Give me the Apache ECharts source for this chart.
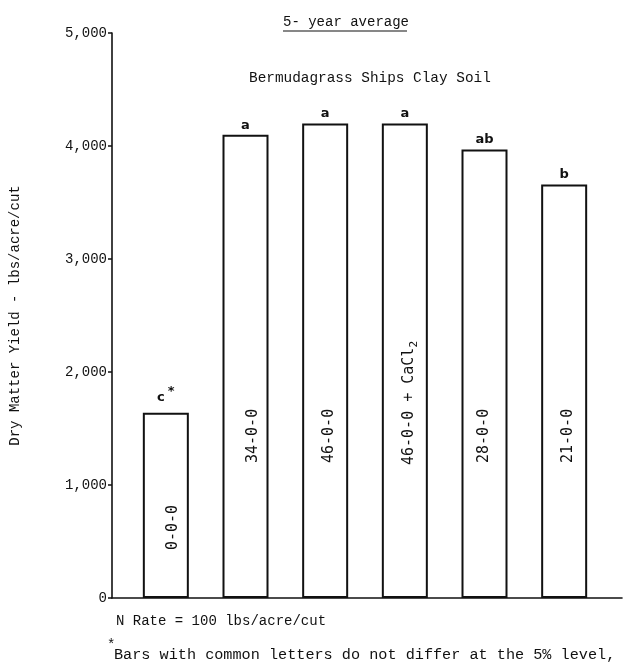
<!DOCTYPE html>
<html>
<head>
<meta charset="utf-8">
<script src="https://cdn.jsdelivr.net/npm/echarts@6/dist/echarts.min.js"></script>
<style>html,body{margin:0;padding:0;background:#fff;}#c{width:630px;height:666px;}</style>
</head>
<body>
<div id="c"></div>
<script>
// ---- data ----
var categories = ['0-0-0', '34-0-0', '46-0-0', '46-0-0 + CaCl2', '28-0-0', '21-0-0'];
var yields = [1640, 4100, 4200, 4200, 3970, 3660];
var letters = ['c', 'a', 'a', 'a', 'ab', 'b'];
var yTicks = [0, 1000, 2000, 3000, 4000, 5000];

// ---- layout (label placement, not data) ----
var labelLift = [48, 135, 135, 133, 135, 135];
var labelDx = [7, 8, 4, 4, 0, 4];

var mono = '"Liberation Mono", "DejaVu Sans Mono", monospace';
var sansMono = '"DejaVu Sans Mono", monospace';
var ink = '#111';

var chart = echarts.init(document.getElementById('c'), null, {renderer: 'canvas'});

function catLabel(name) {
  if (name.indexOf('CaCl2') >= 0) {
    return '{n|' + name.replace('CaCl2', 'CaCl') + '}{s|2}';
  }
  return '{n|' + name + '}';
}

var option = {
  backgroundColor: '#fff',
  animation: false,
  grid: [
    {left: 111, right: 8, top: 33, bottom: 68},
    {left: 126, width: 478, top: 33, bottom: 68}
  ],
  xAxis: [
    {gridIndex: 0, type: 'value', min: 0, max: 1,
     axisLine: {show: true, onZero: false, lineStyle: {color: ink, width: 1.6}},
     axisTick: {show: false}, axisLabel: {show: false}, splitLine: {show: false}},
    {gridIndex: 1, type: 'category', data: categories,
     axisLine: {show: false}, axisTick: {show: false}, axisLabel: {show: false}}
  ],
  yAxis: [
    {gridIndex: 0, type: 'value', min: yTicks[0], max: yTicks[yTicks.length - 1], interval: 1000,
     name: 'Dry Matter Yield - lbs/acre/cut', nameLocation: 'middle', nameGap: 90,
     nameTextStyle: {fontFamily: mono, fontSize: 14, color: ink},
     axisLine: {show: true, lineStyle: {color: ink, width: 1.6}},
     axisTick: {show: true, length: 4, lineStyle: {color: ink, width: 1.5}},
     axisLabel: {fontFamily: mono, fontSize: 14, color: ink, margin: 5,
       formatter: function (v) { return v === 0 ? '0' : v.toLocaleString('en-US'); }},
     splitLine: {show: false}},
    {gridIndex: 1, type: 'value', min: yTicks[0], max: yTicks[yTicks.length - 1], show: false,
     splitLine: {show: false}}
  ],
  series: [
    {type: 'bar', xAxisIndex: 1, yAxisIndex: 1, barWidth: 46, barGap: '-100%',
     data: yields,
     itemStyle: {color: '#fff', borderColor: ink, borderWidth: 2},
     label: {show: true, position: 'top', distance: 3,
       formatter: function (p) {
         var l = letters[p.dataIndex];
         return p.dataIndex === 0 ? '{l|' + l + '}{st|*}' : '{l|' + l + '}';
       },
       rich: {
         l: {fontFamily: '"DejaVu Sans", sans-serif', fontWeight: 'bold', fontSize: 13, color: ink},
         st: {fontFamily: '"DejaVu Sans", sans-serif', fontWeight: 'bold', fontSize: 13, color: ink,
              padding: [0, 0, 12, 3]}
       }}},
    {type: 'bar', xAxisIndex: 1, yAxisIndex: 1, barWidth: 46, barGap: '-100%',
     itemStyle: {color: 'rgba(0,0,0,0)', borderWidth: 0},
     silent: true,
     data: yields.map(function (v, i) {
       return {value: v, label: {distance: labelLift[i], offset: [0, labelDx[i]]}};
     }),
     label: {show: true, position: 'insideBottom', rotate: 90, align: 'left', verticalAlign: 'middle',
       formatter: function (p) { return catLabel(categories[p.dataIndex]); },
       rich: {
         n: {fontFamily: sansMono, fontSize: 15, color: ink, lineHeight: 22},
         s: {fontFamily: sansMono, fontSize: 11, color: ink, lineHeight: 11, padding: [11, 0, 0, 0]}
       }}}
  ],
  graphic: [
    {type: 'text', left: 283, top: 15,
     style: {text: '5- year average', fontFamily: mono, fontSize: 14, fill: ink}},
    {type: 'line', shape: {x1: 283, y1: 31, x2: 407, y2: 31}, style: {stroke: ink, lineWidth: 1.2}},
    {type: 'text', left: 249, top: 71,
     style: {text: 'Bermudagrass Ships Clay Soil', fontFamily: mono, fontSize: 14.4, fill: ink}},
    {type: 'text', left: 116, top: 614,
     style: {text: 'N Rate = 100 lbs/acre/cut', fontFamily: mono, fontSize: 14, fill: ink}},
    {type: 'text', left: 107, top: 638,
     style: {text: '*', fontFamily: mono, fontSize: 14, fill: ink}},
    {type: 'text', left: 114, top: 647,
     style: {text: 'Bars with common letters do not differ at the 5% level,', fontFamily: mono, fontSize: 15.2, fill: ink}}
  ]
};
chart.setOption(option);
</script>
</body>
</html>
